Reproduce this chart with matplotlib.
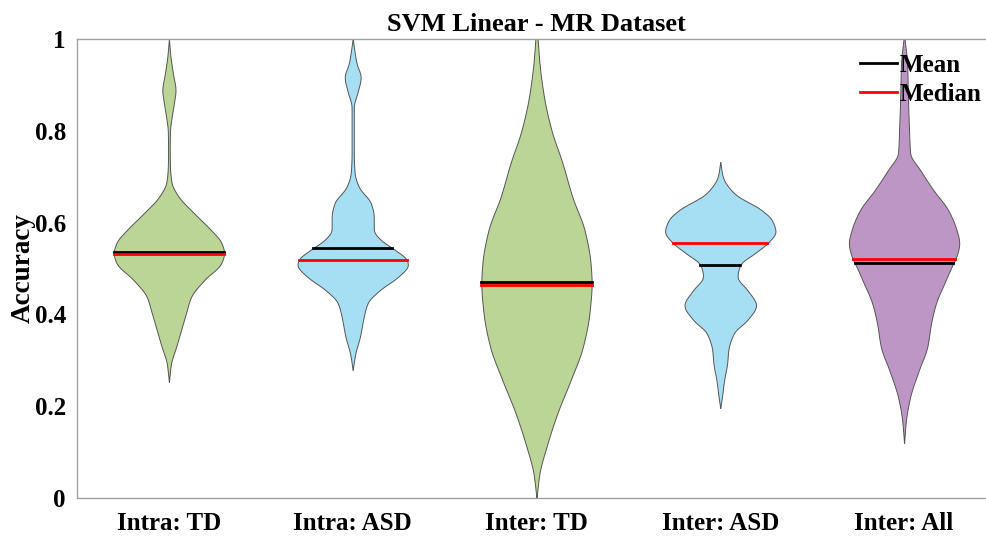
import numpy as np
import matplotlib.pyplot as plt
from matplotlib.lines import Line2D

# Violin profiles: y levels and relative half-width (1 = widest)
labels = ['Intra: TD', 'Intra: ASD', 'Inter: TD', 'Inter: ASD', 'Inter: All']
colors = ['#BBD597', '#A6DEF4', '#BBD597', '#A6DEF4', '#BE96C6']

td_intra_y = [0.253, 0.294, 0.329, 0.366, 0.403, 0.438, 0.475, 0.512, 0.534, 0.556, 0.584,
              0.621, 0.656, 0.686, 0.72, 0.76, 0.80, 0.83, 0.86, 0.889, 0.92, 0.96, 1.0]
td_intra_w = [0.0, 0.04, 0.13, 0.22, 0.31, 0.40, 0.64, 0.95, 1.0, 0.95, 0.76,
              0.45, 0.18, 0.05, 0.02, 0.015, 0.02, 0.05, 0.09, 0.12, 0.08, 0.03, 0.0]

asd_intra_y = [0.279, 0.316, 0.351, 0.395, 0.425, 0.453, 0.482, 0.508, 0.518, 0.545, 0.562,
               0.584, 0.613, 0.642, 0.678, 0.708, 0.75, 0.80, 0.852, 0.885, 0.917, 0.947, 1.0]
asd_intra_w = [0.0, 0.05, 0.13, 0.20, 0.27, 0.49, 0.82, 1.0, 0.98, 0.71, 0.51,
               0.38, 0.38, 0.33, 0.11, 0.035, 0.02, 0.02, 0.02, 0.09, 0.145, 0.07, 0.0]

td_inter_y = [0.0, 0.054, 0.111, 0.185, 0.257, 0.329, 0.403, 0.468, 0.512,
              0.584, 0.656, 0.730, 0.802, 0.874, 0.947, 1.0]
td_inter_w = [0.0, 0.055, 0.18, 0.38, 0.62, 0.84, 0.96, 1.0, 0.98,
              0.87, 0.65, 0.47, 0.27, 0.136, 0.055, 0.02]

asd_inter_y = [0.196, 0.22, 0.257, 0.294, 0.322, 0.36, 0.388, 0.42, 0.453, 0.482, 0.508,
               0.533, 0.555, 0.580, 0.606, 0.627, 0.664, 0.70, 0.732]
asd_inter_w = [0.0, 0.03, 0.07, 0.125, 0.145, 0.25, 0.49, 0.65, 0.49, 0.31, 0.36,
               0.62, 0.85, 1.0, 0.93, 0.75, 0.25, 0.045, 0.0]

all_inter_y = [0.12, 0.17, 0.22, 0.279, 0.329, 0.381, 0.425, 0.468, 0.511, 0.52, 0.556,
               0.584, 0.627, 0.671, 0.715, 0.751, 0.802, 0.874, 0.947, 1.0]
all_inter_w = [0.0, 0.035, 0.11, 0.27, 0.42, 0.49, 0.58, 0.73, 0.89, 0.93, 1.0,
               0.95, 0.80, 0.53, 0.29, 0.11, 0.09, 0.07, 0.055, 0.01]

profiles_y = [td_intra_y, asd_intra_y, td_inter_y, asd_inter_y, all_inter_y]
profiles_w = [td_intra_w, asd_intra_w, td_inter_w, asd_inter_w, all_inter_w]

means = [0.536, 0.545, 0.471, 0.507, 0.511]
medians = [0.532, 0.518, 0.463, 0.555, 0.520]

max_half = 0.30


def pchip(x, y, xn):
    # monotone cubic hermite, keeps the outline smooth without overshoot
    x = np.asarray(x, float)
    y = np.asarray(y, float)
    h = np.diff(x)
    d = np.diff(y) / h
    m = np.zeros_like(y)
    for k in range(1, len(x) - 1):
        if d[k - 1] * d[k] > 0:
            w1 = 2 * h[k] + h[k - 1]
            w2 = h[k] + 2 * h[k - 1]
            m[k] = (w1 + w2) / (w1 / d[k - 1] + w2 / d[k])
    m[0], m[-1] = d[0], d[-1]
    idx = np.clip(np.searchsorted(x, xn) - 1, 0, len(x) - 2)
    t = (xn - x[idx]) / h[idx]
    h00 = 2 * t**3 - 3 * t**2 + 1
    h10 = t**3 - 2 * t**2 + t
    h01 = -2 * t**3 + 3 * t**2
    h11 = t**3 - t**2
    return h00 * y[idx] + h10 * h[idx] * m[idx] + h01 * y[idx + 1] + h11 * h[idx] * m[idx + 1]


plt.rcParams['font.family'] = 'Liberation Serif'
plt.rcParams['font.weight'] = 'bold'

fig = plt.figure(figsize=(9.86, 5.36), dpi=100)
ax = fig.add_axes([0.0781, 0.0709, 0.932, 0.8563])

step = 0.001
g = np.arange(-12, 13)
kern = np.exp(-0.5 * (g / 4.0) ** 2)
kern /= kern.sum()

for i, (ys, ws) in enumerate(zip(profiles_y, profiles_w)):
    pos = i + 1
    yy = np.arange(ys[0], ys[-1] + step / 2, step)
    hw = np.clip(pchip(ys, ws, yy), 0, None)
    hw = np.convolve(np.pad(hw, 12, mode='edge'), kern, mode='valid')
    hw = hw / hw.max() * max_half
    hw[0] = 0
    ax.fill_betweenx(yy, pos - hw, pos + hw, facecolor=colors[i],
                     edgecolor='#555555', linewidth=0.7, zorder=2)
    mw = np.interp(means[i], yy, hw)
    dw = np.interp(medians[i], yy, hw)
    ax.plot([pos - mw, pos + mw], [means[i], means[i]], color='black', lw=2, zorder=3)
    ax.plot([pos - dw, pos + dw], [medians[i], medians[i]], color='red', lw=2, zorder=3)

ax.set_xlim(0.5, 5.5)
ax.set_ylim(0, 1)
ax.set_xticks(range(1, 6))
ax.set_xticklabels(labels)
ax.set_yticks([0, 0.2, 0.4, 0.6, 0.8, 1])
ax.set_yticklabels(['0', '0.2', '0.4', '0.6', '0.8', '1'])
ax.tick_params(length=0, labelsize=18)
ax.tick_params(axis='y', pad=8)
ax.tick_params(axis='x', pad=10)
for sp in ax.spines.values():
    sp.set_color('#A0A0A0')
    sp.set_linewidth(1.0)
ax.spines['right'].set_visible(False)

ax.set_ylabel('Accuracy', fontsize=19.5, fontweight='bold', labelpad=-1)
ax.set_title('SVM Linear - MR Dataset', fontsize=19, fontweight='bold', pad=6)

handles = [Line2D([0], [0], color='black', lw=2), Line2D([0], [0], color='red', lw=2)]
fig.legend(handles, ['Mean', 'Median'], loc='upper left', bbox_to_anchor=(0.872, 0.9),
           frameon=False, fontsize=18, handlelength=1.5, handletextpad=0.1,
           labelspacing=0.25, borderpad=0, borderaxespad=0)

fig.savefig('out.png', dpi=100)
